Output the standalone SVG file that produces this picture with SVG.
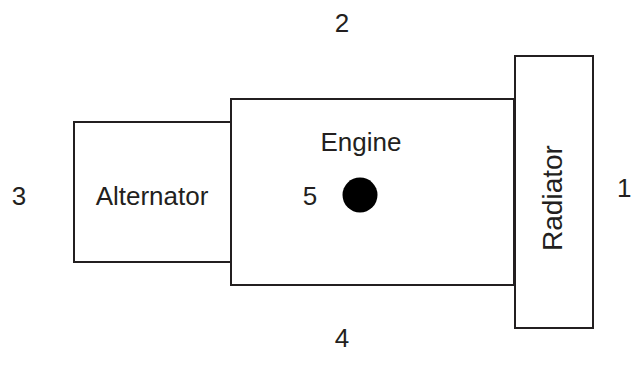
<svg xmlns="http://www.w3.org/2000/svg" width="632" height="369" viewBox="0 0 632 369">
<style>
.box{fill:#fff;stroke:#231f20;stroke-width:2}
text{font-family:"Liberation Sans",Arial,sans-serif;font-size:26px;fill:#231f20}
.c{text-anchor:middle}
</style>
<rect width="632" height="369" fill="#fff"/>
<g id="alternator">
<rect class="box" x="74" y="122" width="157" height="140"/>
<text class="c" x="152" y="205">Alternator</text>
</g>
<g id="engine">
<rect class="box" x="231" y="99" width="283" height="186"/>
<text class="c" x="361" y="151">Engine</text>
<text class="c" x="310" y="205">5</text>
<circle cx="360" cy="195" r="17.5" fill="#000"/>
</g>
<g id="radiator">
<rect class="box" x="515" y="56" width="78" height="272"/>
<text class="c" style="font-size:28px" transform="translate(562 198) rotate(-90)">Radiator</text>
</g>
<g id="labels">
<text class="c" x="342" y="32">2</text>
<text class="c" x="19" y="205">3</text>
<text x="617" y="197">1</text>
<text class="c" x="342" y="347">4</text>
</g>
<g id="connectors"/>
</svg>
